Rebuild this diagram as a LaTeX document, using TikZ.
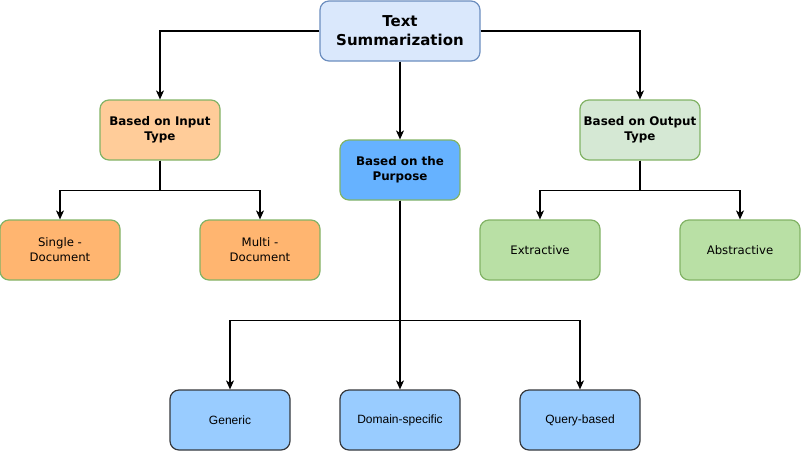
\documentclass[tikz,border=0pt]{standalone}
\usepackage{fontspec}
\setmainfont{DejaVu Sans}
\newfontfamily\arialfont{Liberation Sans}
\usetikzlibrary{arrows.meta}
\definecolor{topfill}{HTML}{DAE8FC}
\definecolor{topline}{HTML}{6C8EBF}
\definecolor{greenline}{HTML}{82B366}
\definecolor{inputfill}{HTML}{FFCC99}
\definecolor{inputleaf}{HTML}{FFB570}
\definecolor{purposefill}{HTML}{66B2FF}
\definecolor{purposeleaf}{HTML}{99CCFF}
\definecolor{outputfill}{HTML}{D5E8D4}
\definecolor{outputleaf}{HTML}{B9E0A5}
\definecolor{darkline}{HTML}{36393D}

\begin{document}
\begin{tikzpicture}[x=1pt, y=-1pt,
  box/.style={draw, line width=1.2pt, rounded corners=9pt, minimum width=120pt,
              minimum height=60pt, inner sep=0pt, align=center,
              font=\fontsize{11.7}{15}\selectfont},
  head/.style={box, font=\fontsize{11.9}{15}\selectfont\bfseries},
  arr/.style={-{Stealth[length=9pt, width=8pt, inset=2.5pt]}, line width=1.2pt}]
  \useasboundingbox (0,0) rectangle (801,451);
	% root and the three ways to split it
	\node[head, fill=topfill, draw=topline, minimum width=160pt,
	      font=\fontsize{15}{19}\selectfont\bfseries] (root) at (400,31) {Text\\Summarization};
	\node[head, fill=inputfill, draw=greenline] (input) at (160,130) {Based on Input\\Type};
	\node[head, fill=purposefill, draw=greenline] (purpose) at (400,170) {Based on the\\Purpose};
	\node[head, fill=outputfill, draw=greenline] (output) at (640,130) {Based on Output\\Type};
	% leaves
	\node[box, fill=inputleaf, draw=greenline] (single) at (60,250) {Single -\\Document};
	\node[box, fill=inputleaf, draw=greenline] (multi) at (260,250) {Multi -\\Document};
	\node[box, fill=outputleaf, draw=greenline] (extr) at (540,250) {Extractive};
	\node[box, fill=outputleaf, draw=greenline] (abstr) at (740,250) {Abstractive};
	\node[box, fill=purposeleaf, draw=darkline, font=\fontsize{12}{14}\arialfont] (generic) at (230,420) {Generic};
	\node[box, fill=purposeleaf, draw=darkline, font=\fontsize{12}{14}\arialfont] (domain) at (400,420) {Domain-specific};
	\node[box, fill=purposeleaf, draw=darkline, font=\fontsize{12}{14}\arialfont] (query) at (580,420) {Query-based};

  \draw[arr] (root.west) -| (input.north);
  \draw[arr] (root.east) -| (output.north);
  \draw[arr] (root.south) -- (purpose.north);
  \draw[arr] (input.south) -- ++(0,30) -| (single.north);
  \draw[arr] (input.south) -- ++(0,30) -| (multi.north);
  \draw[arr] (output.south) -- ++(0,30) -| (extr.north);
  \draw[arr] (output.south) -- ++(0,30) -| (abstr.north);
  \draw[arr] (purpose.south) -- ++(0,120) -| (generic.north);
  \draw[arr] (purpose.south) -- (domain.north);
  \draw[arr] (purpose.south) -- ++(0,120) -| (query.north);
\end{tikzpicture}
\end{document}
